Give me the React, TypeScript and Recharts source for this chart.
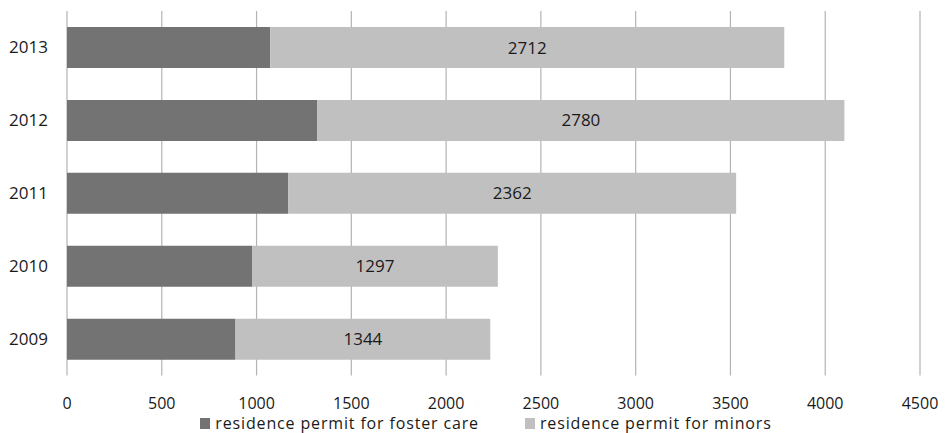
import { Bar, BarChart, CartesianGrid, LabelList, Legend, XAxis, YAxis } from "recharts";

const years = ["2013", "2012", "2011", "2010", "2009"];
const fosterCare = [1072, 1321, 1168, 976, 889];
const minors = [2712, 2780, 2362, 1297, 1344];
const xTicks = [0, 500, 1000, 1500, 2000, 2500, 3000, 3500, 4000, 4500];

const data = years.map((year, i) => ({
  year,
  foster: fosterCare[i],
  minors: minors[i],
}));

const FONT = "'Open Sans', 'Noto Sans', sans-serif";

type LegendEntry = { value?: string; color?: string };

function SeriesLegend({ payload }: { payload?: LegendEntry[] }) {
  return (
    <div
      style={{
        display: "flex",
        justifyContent: "center",
        gap: 46,
        paddingLeft: 52,
        height: 20,
        lineHeight: "20px",
        fontSize: 16,
        letterSpacing: 0.85,
        color: "#1a1a1a",
        fontFamily: FONT,
      }}
    >
      {(payload ?? []).map((entry) => (
        <div key={entry.value} style={{ display: "flex", alignItems: "center" }}>
          <span
            style={{
              display: "inline-block",
              width: 10,
              height: 11,
              background: entry.color,
              marginRight: 5,
            }}
          />
          <span>{entry.value}</span>
        </div>
      ))}
    </div>
  );
}

export default function App() {
  return (
    <div style={{ position: "absolute", left: 0, top: 0, fontFamily: FONT }}>
      <BarChart
        width={945}
        height={433}
        data={data}
        layout="vertical"
        barCategoryGap="22%"
        margin={{ top: 11, right: 25, bottom: 0, left: 0 }}
      >
        <CartesianGrid horizontal={false} stroke="#b3b3b3" strokeWidth={1.2} />
        <XAxis
          type="number"
          domain={[0, 4500]}
          ticks={xTicks}
          interval={0}
          axisLine={false}
          tickLine={false}
          tickMargin={16}
          height={37.5}
          tick={{ fill: "#1a1a1a", fontSize: 16, fontFamily: FONT }}
        />
        <YAxis
          type="category"
          dataKey="year"
          width={67}
          axisLine={false}
          tickLine={false}
          tickMargin={13}
          tick={{ fill: "#1a1a1a", fontSize: 17, fontFamily: FONT }}
        />
        <Legend verticalAlign="bottom" align="center" content={<SeriesLegend />} />
        <Bar
          dataKey="foster"
          name="residence permit for foster care"
          stackId="a"
          fill="#737373"
          isAnimationActive={false}
        />
        <Bar
          dataKey="minors"
          name="residence permit for minors"
          stackId="a"
          fill="#c0c0c0"
          isAnimationActive={false}
        >
          <LabelList
            dataKey="minors"
            position="center"
            fill="#1a1a1a"
            fontSize={17}
            fontFamily={FONT}
          />
        </Bar>
      </BarChart>
    </div>
  );
}
